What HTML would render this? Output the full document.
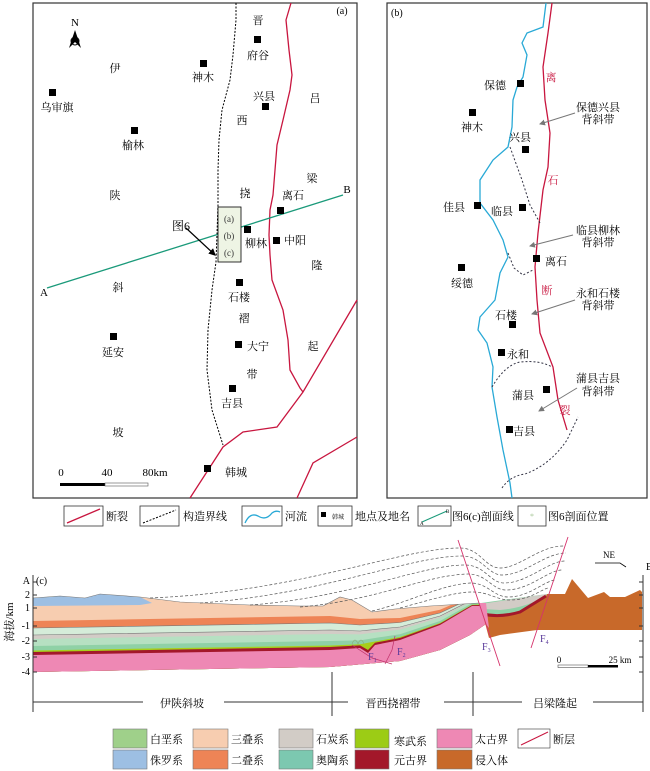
<!DOCTYPE html>
<html><head><meta charset="utf-8"><style>
html,body{margin:0;padding:0;background:#fff;}
svg{display:block;font-family:"Liberation Serif","Noto Serif CJK SC",serif;}
</style></head><body>
<svg width="650" height="771" viewBox="0 0 650 771" xmlns="http://www.w3.org/2000/svg">
<defs>
<clipPath id="sec"><path d="M33,598 L60,596 L85,598 L100,594 L140,597 L180,602 L250,605 L300,606 L323,606 L340,597 L352,600 L372,612 L395,609 L430,606 L479,603 L486,624 L470,635 L440,650 L400,661 L330,667 L33,672 Z"/></clipPath>
<marker id="ah" markerWidth="6" markerHeight="6" refX="5" refY="3" orient="auto"><path d="M0,0 L6,3 L0,6 Z" fill="#000"/></marker>
<marker id="ag" markerWidth="6" markerHeight="6" refX="5" refY="3" orient="auto"><path d="M0,0 L6,3 L0,6 Z" fill="#777"/></marker>
</defs>

<!-- Panel (a) -->
<rect x="33" y="3" width="324" height="495" fill="none" stroke="#333" stroke-width="1.2"/>
<text x="342" y="14" font-size="10" text-anchor="middle">(a)</text>
<!-- boundary dashed -->
<path d="M236,3 L236,20 L233,55 L230,80 L222,110 L219,140 L218,170 L218,205 L216,262 L212,290 L208,330 L207,370 L212,410 L223,445" fill="none" stroke="#000" stroke-width="1" stroke-dasharray="2,1.5"/>
<!-- faults -->
<path d="M291,3 L286,20 L289,50 L292,75 L290,90 L283,120 L277,145 L275,170 L273,195 L270,210 L269,235 L270,255 L272,280 L283,310 L288,340 L290,370 L300,388 L303,392" fill="none" stroke="#c8163f" stroke-width="1.3"/>
<path d="M357,300 L303,392 L277,427 L243,432 L223,447 L190,498" fill="none" stroke="#c8163f" stroke-width="1.3"/>
<path d="M357,437 L313,463 L297,498" fill="none" stroke="#c8163f" stroke-width="1.3"/>
<!-- section line -->
<line x1="47" y1="288" x2="343" y2="195" stroke="#1a9a7a" stroke-width="1.3"/>
<text x="44" y="296" font-size="11" text-anchor="middle">A</text>
<text x="347" y="193" font-size="11" text-anchor="middle">B</text>
<!-- fig6 box -->
<rect x="218" y="207" width="23" height="55" fill="#eef4e4" stroke="#000" stroke-width="0.8"/>
<text x="229" y="222" font-size="9" text-anchor="middle" fill="#333">(a)</text>
<text x="229" y="239" font-size="9" text-anchor="middle" fill="#333">(b)</text>
<text x="229" y="256" font-size="9" text-anchor="middle" fill="#333">(c)</text>
<text x="172" y="230" font-size="12">图6</text>
<line x1="186" y1="228" x2="215" y2="255" stroke="#000" stroke-width="1.2" marker-end="url(#ah)"/>
<!-- north arrow -->
<text x="75" y="26" font-size="11" text-anchor="middle">N</text>
<polygon points="75,30 81,48 75,42 69,48" fill="#000"/>
<circle cx="75" cy="41" r="4" fill="none" stroke="#000" stroke-width="1"/>
<!-- towns -->
<g fill="#000">
<rect x="254" y="36" width="7" height="7"/>
<rect x="200" y="60" width="7" height="7"/>
<rect x="49" y="89" width="7" height="7"/>
<rect x="262" y="103" width="7" height="7"/>
<rect x="131" y="127" width="7" height="7"/>
<rect x="277" y="207" width="7" height="7"/>
<rect x="244" y="226" width="7" height="7"/>
<rect x="273" y="237" width="7" height="7"/>
<rect x="236" y="279" width="7" height="7"/>
<rect x="110" y="333" width="7" height="7"/>
<rect x="235" y="341" width="7" height="7"/>
<rect x="229" y="385" width="7" height="7"/>
<rect x="204" y="465" width="7" height="7"/>
</g>
<g font-size="11" text-anchor="middle">
<text x="258" y="24">晋</text>
<text x="258" y="59">府谷</text>
<text x="203" y="81">神木</text>
<text x="115" y="72">伊</text>
<text x="57" y="111">乌审旗</text>
<text x="264" y="100">兴县</text>
<text x="315" y="102">吕</text>
<text x="242" y="124">西</text>
<text x="133" y="149">榆林</text>
<text x="312" y="182">梁</text>
<text x="115" y="199">陕</text>
<text x="245" y="197">挠</text>
<text x="293" y="199">离石</text>
<text x="256" y="247">柳林</text>
<text x="295" y="244">中阳</text>
<text x="317" y="269">隆</text>
<text x="118" y="291">斜</text>
<text x="239" y="301">石楼</text>
<text x="244" y="322">褶</text>
<text x="258" y="350">大宁</text>
<text x="313" y="350">起</text>
<text x="113" y="356">延安</text>
<text x="252" y="378">带</text>
<text x="232" y="407">吉县</text>
<text x="118" y="436">坡</text>
<text x="236" y="476">韩城</text>
<text x="61" y="476">0</text>
<text x="107" y="476">40</text>
<text x="155" y="476">80km</text>
</g>
<rect x="60" y="483" width="45" height="3" fill="#000"/>
<rect x="105" y="483" width="43" height="3" fill="#fff" stroke="#555" stroke-width="0.6"/>

<!-- Panel (b) -->
<rect x="387" y="3" width="260" height="495" fill="none" stroke="#333" stroke-width="1.2"/>
<text x="391" y="16" font-size="10">(b)</text>
<path d="M546,3 L543,27 L527,33 L522,43 L527,55 L523,77 L517,87 L513,100 L512,127 L508,147 L493,160 L480,180 L480,203 L493,220 L503,240 L508,257 L500,273 L495,300 L480,317 L478,330 L487,343 L493,367 L492,387 L497,417 L503,450 L510,483 L512,498" fill="none" stroke="#29a9d6" stroke-width="1.3"/>
<path d="M552,3 L548,33 L543,67 L545,100 L550,133 L548,167 L543,190 L538,233 L535,267 L537,300 L540,333 L553,367 L558,400 L567,430" fill="none" stroke="#c8163f" stroke-width="1.3"/>
<g fill="none" stroke="#334" stroke-width="1" stroke-dasharray="2,2">
<path d="M510,147 L522,180 L530,205 L540,223"/>
<path d="M508,253 L514,268 L523,275 L533,270"/>
<path d="M492,387 Q505,365 520,362 Q540,360 552,367"/>
<path d="M502,488 Q510,476 525,474 Q550,465 567,440 L578,417"/>
</g>
<g font-size="11" text-anchor="middle" fill="#c8163f">
<text x="551" y="81">离</text><text x="553" y="184">石</text><text x="547" y="294">断</text><text x="565" y="414">裂</text>
</g>
<g fill="#000">
<rect x="517" y="80" width="7" height="7"/>
<rect x="469" y="109" width="7" height="7"/>
<rect x="522" y="146" width="7" height="7"/>
<rect x="474" y="202" width="7" height="7"/>
<rect x="519" y="204" width="7" height="7"/>
<rect x="533" y="255" width="7" height="7"/>
<rect x="458" y="264" width="7" height="7"/>
<rect x="509" y="321" width="7" height="7"/>
<rect x="498" y="349" width="7" height="7"/>
<rect x="543" y="386" width="7" height="7"/>
<rect x="506" y="426" width="7" height="7"/>
</g>
<g font-size="11" text-anchor="middle">
<text x="495" y="89">保德</text>
<text x="472" y="131">神木</text>
<text x="520" y="141">兴县</text>
<text x="454" y="211">佳县</text>
<text x="502" y="215">临县</text>
<text x="556" y="265">离石</text>
<text x="462" y="287">绥德</text>
<text x="506" y="319">石楼</text>
<text x="518" y="358">永和</text>
<text x="523" y="399">蒲县</text>
<text x="524" y="435">吉县</text>
<text x="598" y="111">保德兴县</text><text x="598" y="123">背斜带</text>
<text x="598" y="234">临县柳林</text><text x="598" y="246">背斜带</text>
<text x="598" y="297">永和石楼</text><text x="598" y="309">背斜带</text>
<text x="598" y="382">蒲县吉县</text><text x="598" y="395">背斜带</text>
</g>
<g stroke="#777" stroke-width="1">
<line x1="575" y1="113" x2="540" y2="124" marker-end="url(#ag)"/>
<line x1="573" y1="235" x2="530" y2="246" marker-end="url(#ag)"/>
<line x1="575" y1="300" x2="532" y2="314" marker-end="url(#ag)"/>
<line x1="577" y1="388" x2="539" y2="411" marker-end="url(#ag)"/>
</g>

<!-- top legend -->
<g stroke="#333" stroke-width="0.8" fill="#fff">
<rect x="64" y="506" width="39" height="20"/>
<rect x="140" y="506" width="39" height="20"/>
<rect x="242" y="506" width="40" height="20"/>
<rect x="318" y="506" width="34" height="20"/>
<rect x="418" y="506" width="33" height="20"/>
<rect x="518" y="506" width="28" height="20"/>
</g>
<line x1="67" y1="523" x2="100" y2="509" stroke="#c8163f" stroke-width="1.3"/>
<line x1="143" y1="523" x2="176" y2="510" stroke="#000" stroke-width="1" stroke-dasharray="2,1.5"/>
<path d="M245,523 Q250,512 258,516 Q266,521 272,513 Q276,510 280,512" fill="none" stroke="#29a9d6" stroke-width="1.3"/>
<rect x="321" y="512" width="5" height="5" fill="#000"/>
<text x="338" y="519" font-size="6" text-anchor="middle">韩城</text>
<line x1="422" y1="522" x2="447" y2="511" stroke="#1a9a7a" stroke-width="1"/>
<text x="420" y="525" font-size="5">A</text><text x="446" y="513" font-size="5">B</text>
<text x="532" y="519" font-size="8" fill="#a8c898" text-anchor="middle">*</text>
<g font-size="11">
<text x="106" y="520">断裂</text>
<text x="183" y="520">构造界线</text>
<text x="285" y="520">河流</text>
<text x="355" y="520">地点及地名</text>
<text x="452" y="520">图6(c)剖面线</text>
<text x="548" y="520">图6剖面位置</text>
</g>

<!-- Cross section -->
<g clip-path="url(#sec)">
<rect x="30" y="585" width="460" height="95" fill="#f7cdb0"/>
<polygon fill="#ee8456" points="33,621 330,616 360,619 375,618.5 400,618 440,609.7 472,595.8 490,595 490,690 33,690"/>
<polygon fill="#d5ecd9" points="33,628 330,623 360,625 375,624 400,622.5 440,613 472,598 490,597 490,690 33,690"/>
<polygon fill="#d2ccc6" points="33,635 330,630 360,631 375,629.4 400,627 440,616 472,600 490,600 490,690 33,690"/>
<polygon fill="#b6e0c2" points="33,639 330,634 360,634.4 375,632.5 400,629.6 440,617.8 472,601.2 490,601 490,690 33,690"/>
<polygon fill="#8fd1a6" points="33,646 330,641 360,640.4 375,638 400,634.2 440,621 472,603.3 490,603 490,690 33,690"/>
<polygon fill="#a7cf1a" points="33,650.5 330,645.5 360,644.2 375,641.5 400,637 440,623 472,604.7 490,604 490,690 33,690"/>
<polygon fill="#a3182a" points="33,652 330,647 360,645.4 368,650 375,642.7 400,638 440,623.6 472,605.1 490,605 490,690 33,690"/>
<polygon fill="#ee88b4" points="33,655 330,650 360,648 368,653 375,645 400,640 440,625 472,606 490,606 490,690 33,690"/>
<polyline fill="none" stroke="#777" stroke-width="0.6" points="33,628 330,623 360,625 375,624 400,622.5 440,613 472,598"/>
<polyline fill="none" stroke="#777" stroke-width="0.6" points="33,635 330,630 360,631 375,629.4 400,627 440,616 472,600"/>
<polygon fill="#9dbfe3" points="33,598 60,596 85,598 100,594 140,597 152,603 140,605 33,606"/>
<polygon fill="#9fd08a" points="33,597 40,593 50,593 62,596 33,598"/>
</g>
<path d="M33,598 L60,596 L85,598 L100,594 L140,597 L180,602 L250,605 L300,606 L323,606 L340,597 L352,600 L372,612 L395,609 L430,606 L479,603" fill="none" stroke="#777" stroke-width="0.6"/>
<g stroke="#c0306a" stroke-width="0.7" fill="none">
<path d="M352,645 L372,658 L392,664"/>
<path d="M395,636 L392,650 L385,664"/>
</g>
<path d="M352,644 q3,-8 6,0 q3,-8 6,0" fill="none" stroke="#8a7" stroke-width="0.6"/>
<!-- right block -->
<polygon fill="#c8692a" points="480,604 500,603 530,599 547,594 565,594 572,579 588,598 604,592 610,597 625,597 640,590 642,592 642,630 600,630 537,630 500,635 489,638"/>
<path d="M481,603 L547,594 L545,597 Q525,612 500,617 L484,614 Z" fill="#8fd1a6"/>
<path d="M481,604 L547,594 L546,596 Q525,608 500,610 L483,609 Z" fill="#d2ccc6"/>
<path d="M483,614 Q500,618 520,612 L546,596" fill="none" stroke="#a3182a" stroke-width="3"/>
<polygon fill="#ee88b4" points="479,603 486,603 489,628 486,624"/>
<!-- dashed -->
<g fill="none" stroke="#555" stroke-width="0.7" stroke-dasharray="3,2">
<path d="M150,598 C300,592 400,548 460,548 C480,548 485,568 500,568 C520,568 540,545 565,546"/>
<path d="M200,603 C320,595 410,556 462,556 C482,556 488,575 502,575 C525,575 545,553 566,553"/>
<path d="M250,605 C350,598 420,565 465,565 C485,565 490,583 504,583 C528,583 548,561 565,561"/>
<path d="M300,607 C380,600 425,575 468,574 C487,574 492,590 506,590 C530,590 548,570 562,570"/>
<path d="M372,611 C410,602 440,585 470,583 C488,583 494,597 508,597 C530,597 545,580 556,580"/>
<path d="M400,608 C430,600 455,592 472,592 C490,592 496,600 510,600 C530,600 540,590 548,588"/>
</g>
<!-- faults F3 F4 -->
<line x1="458" y1="540" x2="500" y2="666" stroke="#d6336c" stroke-width="0.9"/>
<line x1="568" y1="537" x2="531" y2="648" stroke="#d6336c" stroke-width="0.9"/>
<g font-size="10" fill="#5a3a9a">
<text x="368" y="660">F<tspan font-size="6" dy="2">1</tspan></text>
<text x="397" y="655">F<tspan font-size="6" dy="2">2</tspan></text>
<text x="482" y="650">F<tspan font-size="6" dy="2">3</tspan></text>
<text x="540" y="642">F<tspan font-size="6" dy="2">4</tspan></text>
</g>
<!-- axes -->
<line x1="33" y1="575" x2="33" y2="712" stroke="#333" stroke-width="1"/>
<line x1="643" y1="575" x2="643" y2="712" stroke="#333" stroke-width="1"/>
<g stroke="#333" stroke-width="1">
<line x1="33" y1="582" x2="37" y2="582"/><line x1="33" y1="595" x2="37" y2="595"/><line x1="33" y1="608" x2="37" y2="608"/><line x1="33" y1="626" x2="37" y2="626"/><line x1="33" y1="641" x2="37" y2="641"/><line x1="33" y1="657" x2="37" y2="657"/><line x1="33" y1="672" x2="37" y2="672"/>
<line x1="639" y1="582" x2="643" y2="582"/><line x1="639" y1="595" x2="643" y2="595"/><line x1="639" y1="608" x2="643" y2="608"/><line x1="639" y1="626" x2="643" y2="626"/><line x1="639" y1="641" x2="643" y2="641"/><line x1="639" y1="657" x2="643" y2="657"/><line x1="639" y1="672" x2="643" y2="672"/>
</g>
<g font-size="10" text-anchor="end">
<text x="30" y="584">A</text>
<text x="30" y="598">2</text><text x="30" y="611">1</text><text x="30" y="629">-1</text><text x="30" y="644">-2</text><text x="30" y="660">-3</text><text x="30" y="675">-4</text>
</g>
<text x="36" y="584" font-size="10">(c)</text>
<text x="646" y="570" font-size="10">B</text>
<text transform="translate(13,622) rotate(-90)" font-size="11" text-anchor="middle">海拔/km</text>
<text x="609" y="558" font-size="9" text-anchor="middle">NE</text>
<path d="M595,563 L620,563 L626,567" fill="none" stroke="#000" stroke-width="0.8"/>
<text x="559" y="663" font-size="9" text-anchor="middle">0</text>
<text x="620" y="663" font-size="9" text-anchor="middle">25 km</text>
<rect x="558" y="665" width="30" height="2.5" fill="#fff" stroke="#333" stroke-width="0.5"/>
<rect x="588" y="665" width="30" height="2.5" fill="#000"/>
<!-- zones -->
<g stroke="#333" stroke-width="1">
<line x1="33" y1="702" x2="143" y2="702"/><line x1="224" y1="702" x2="348" y2="702"/><line x1="444" y1="702" x2="522" y2="702"/><line x1="593" y1="702" x2="643" y2="702"/>
<line x1="332" y1="672" x2="332" y2="716"/><line x1="473" y1="672" x2="473" y2="716"/>
</g>
<g font-size="11" text-anchor="middle">
<text x="182" y="707">伊陕斜坡</text><text x="393" y="707">晋西挠褶带</text><text x="555" y="707">吕梁隆起</text>
</g>
<!-- bottom legend -->
<g stroke="#777" stroke-width="0.6">
<rect x="113" y="729" width="34" height="19" fill="#9fd08a"/>
<rect x="113" y="750" width="34" height="19" fill="#9dbfe3"/>
<rect x="193" y="729" width="35" height="19" fill="#f7cdb0"/>
<rect x="193" y="750" width="35" height="19" fill="#ee8456"/>
<rect x="279" y="729" width="34" height="19" fill="#d2ccc6"/>
<rect x="279" y="750" width="34" height="19" fill="#7cc8b0"/>
<rect x="355" y="729" width="34" height="19" fill="#9ccc15"/>
<rect x="355" y="750" width="34" height="19" fill="#a3182a"/>
<rect x="437" y="729" width="35" height="19" fill="#ee88b4"/>
<rect x="437" y="750" width="35" height="19" fill="#c8692a"/>
<rect x="518" y="729" width="32" height="19" fill="#fff" stroke="#333"/>
</g>
<line x1="521" y1="745" x2="548" y2="732" stroke="#c8163f" stroke-width="1"/>
<g font-size="11">
<text x="150" y="743">白垩系</text><text x="150" y="764">侏罗系</text>
<text x="231" y="743">三叠系</text><text x="231" y="764">二叠系</text>
<text x="316" y="743">石炭系</text><text x="316" y="764">奥陶系</text>
<text x="394" y="745">寒武系</text><text x="394" y="764">元古界</text>
<text x="475" y="743">太古界</text><text x="475" y="764">侵入体</text>
<text x="553" y="743">断层</text>
</g>
</svg>
</body></html>
